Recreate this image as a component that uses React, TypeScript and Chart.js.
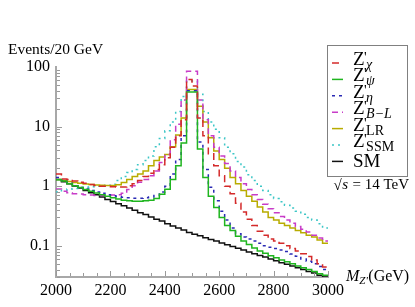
import React, { useEffect, useRef } from 'react';
import { Chart, registerables } from 'chart.js';
Chart.register(...registerables);

// ---- data ----
const BIN_START = 2000; // GeV, lower edge of first bin
const BIN_WIDTH = 20; // GeV
const xTickLabels = [2000, 2200, 2400, 2600, 2800, 3000];
const yTickLabels = [0.1, 1, 10, 100];

const zChi = [1.6, 1.32, 1.3, 1.22, 1.17, 1.12, 1.07, 1.03, 1.0, 1.0, 0.98, 0.97, 0.97, 1.02, 1.1, 1.25, 1.45, 1.65, 1.9, 2.3, 3.0, 4.5, 7.0, 13, 62, 48, 14, 7.0, 3.5, 2.2, 1.5, 1.0, 0.75, 0.52, 0.37, 0.28, 0.22, 0.175, 0.15, 0.13, 0.12, 0.11, 0.1, 0.09, 0.082, 0.074, 0.066, 0.058, 0.05, 0.044];
const zPsi = [1.28, 1.22, 1.1, 1.02, 0.95, 0.88, 0.82, 0.77, 0.72, 0.68, 0.64, 0.61, 0.58, 0.57, 0.56, 0.56, 0.57, 0.58, 0.62, 0.73, 0.89, 1.3, 2.2, 5.3, 38, 38, 4.2, 1.4, 0.68, 0.44, 0.3, 0.22, 0.18, 0.145, 0.12, 0.105, 0.092, 0.082, 0.075, 0.068, 0.063, 0.058, 0.054, 0.05, 0.046, 0.043, 0.04, 0.037, 0.034, 0.032];
const zEta = [1.4, 1.25, 1.12, 1.02, 0.95, 0.9, 0.85, 0.8, 0.76, 0.72, 0.69, 0.67, 0.65, 0.64, 0.63, 0.63, 0.64, 0.66, 0.7, 0.8, 1.0, 1.6, 2.8, 7.0, 40, 40, 5.5, 1.9, 0.96, 0.57, 0.38, 0.27, 0.2, 0.16, 0.14, 0.13, 0.12, 0.11, 0.1, 0.095, 0.09, 0.085, 0.08, 0.073, 0.067, 0.06, 0.055, 0.05, 0.045, 0.04];
const zBL = [0.9, 0.82, 0.78, 0.75, 0.74, 0.72, 0.71, 0.7, 0.7, 0.7, 0.71, 0.72, 0.76, 0.88, 1.02, 1.17, 1.3, 1.5, 1.8, 2.5, 3.4, 6.0, 11, 28, 85, 85, 28, 13, 7.0, 4.5, 3.2, 2.4, 1.8, 1.4, 1.1, 0.88, 0.72, 0.6, 0.5, 0.42, 0.36, 0.31, 0.27, 0.24, 0.21, 0.19, 0.17, 0.15, 0.135, 0.12];
const zLR = [1.3, 1.25, 1.2, 1.16, 1.12, 1.09, 1.07, 1.05, 1.04, 1.03, 1.03, 1.06, 1.15, 1.3, 1.45, 1.6, 1.8, 2.2, 2.7, 3.1, 3.4, 4.6, 7.2, 14, 42, 42, 22, 12, 6.5, 3.9, 2.8, 2.0, 1.4, 1.1, 0.85, 0.68, 0.56, 0.45, 0.37, 0.3, 0.27, 0.24, 0.22, 0.2, 0.18, 0.165, 0.15, 0.14, 0.125, 0.11];
const zSSM = [0.8, 0.86, 0.9, 0.92, 0.94, 0.96, 0.98, 1.0, 1.0, 1.04, 1.08, 1.25, 1.45, 1.7, 1.9, 2.3, 2.7, 3.2, 4.6, 6.3, 8.5, 12, 18, 32, 58, 58, 35, 18, 12, 9.0, 6.5, 4.5, 3.5, 2.6, 2.1, 1.55, 1.25, 1.0, 0.85, 0.72, 0.62, 0.55, 0.48, 0.43, 0.38, 0.34, 0.3, 0.27, 0.235, 0.2];
const smBkg = [1.3, 1.19, 1.1, 1.01, 0.93, 0.85, 0.78, 0.72, 0.66, 0.6, 0.555, 0.51, 0.47, 0.43, 0.395, 0.36, 0.335, 0.305, 0.28, 0.26, 0.235, 0.215, 0.2, 0.185, 0.168, 0.157, 0.147, 0.137, 0.128, 0.12, 0.112, 0.104, 0.097, 0.091, 0.085, 0.079, 0.074, 0.069, 0.065, 0.06, 0.056, 0.052, 0.049, 0.046, 0.043, 0.04, 0.037, 0.035, 0.032, 0.03];

const seriesSubs = ['χ', 'ψ', 'η', 'B−L', 'LR', 'SSM', ''];
const seriesItalic = [true, true, true, true, false, false, false];
const seriesValues = [zChi, zPsi, zEta, zBL, zLR, zSSM, smBkg];
const seriesColors = ['#d42a2a', '#1fb51f', '#2a2ab4', '#c83cc8', '#b8ac00', '#3cc6c6', '#111111'];
const seriesDash: number[][] = [[7, 4], [], [3, 4], [6, 4], [], [2, 4], []];

const SERIF = "'Liberation Serif', 'Times New Roman', serif";

function toSteps(values: number[]) {
  const pts = values.map((v, i) => ({ x: BIN_START + i * BIN_WIDTH, y: v }));
  pts.push({ x: BIN_START + values.length * BIN_WIDTH, y: values[values.length - 1] });
  return pts;
}

const decor = {
  id: 'decor',
  afterDraw(chart: any) {
    const { ctx, chartArea: ca, scales } = chart;
    const xs = scales.x;
    const ys = scales.y;
    ctx.save();
    // inward tick marks
    ctx.strokeStyle = '#9a9a9a';
    ctx.lineWidth = 1;
    ctx.beginPath();
    for (let v = 2000; v <= 3000; v += 50) {
      const px = Math.round(xs.getPixelForValue(v)) + 0.5;
      const len = v % 200 === 0 ? 5 : 3;
      ctx.moveTo(px, ca.bottom - 1);
      ctx.lineTo(px, ca.bottom - 1 - len);
    }
    const decades = [0.01, 0.1, 1, 10];
    for (const d of decades) {
      for (let m = 1; m <= 9; m++) {
        const v = m * d;
        if (v < ys.min || v > ys.max * 1.0001) continue;
        const py = Math.round(ys.getPixelForValue(v)) + 0.5;
        const len = m === 1 ? 5 : 3;
        ctx.moveTo(ca.left + 1, py);
        ctx.lineTo(ca.left + 1 + len, py);
      }
    }
    ctx.stroke();

    // y axis title
    ctx.fillStyle = '#000';
    ctx.textBaseline = 'alphabetic';
    ctx.textAlign = 'left';
    ctx.font = `15.5px ${SERIF}`;
    ctx.fillText('Events/20 GeV', 8, 54);

    // x axis title: M_Z'(GeV)
    let tx = 346;
    const by = 281;
    ctx.font = `italic 16px ${SERIF}`;
    ctx.fillText('M', tx, by);
    tx += ctx.measureText('M').width;
    ctx.font = `italic 11px ${SERIF}`;
    ctx.fillText("Z'", tx, by + 3);
    tx += ctx.measureText("Z'").width + 0.5;
    ctx.font = `16px ${SERIF}`;
    ctx.fillText('(GeV)', tx, by);

    // sqrt(s) = 14 TeV, right-aligned to x = 409
    const sy = 189;
    ctx.font = `15px ${SERIF}`;
    const restTxt = ' = 14 TeV';
    const restW = ctx.measureText(restTxt).width;
    const rootW = ctx.measureText('√').width;
    ctx.font = `italic 15px ${SERIF}`;
    const sw = ctx.measureText('s').width;
    let sx = 409 - restW - sw - 1 - rootW;
    ctx.font = `15px ${SERIF}`;
    ctx.fillText('√', sx, sy + 1);
    sx += rootW;
    ctx.font = `italic 15px ${SERIF}`;
    ctx.fillText('s', sx + 0.5, sy);
    ctx.strokeStyle = '#000';
    ctx.lineWidth = 1;
    ctx.beginPath();
    ctx.moveTo(sx - 0.5, sy - 12.5);
    ctx.lineTo(sx + sw + 1.5, sy - 12.5);
    ctx.stroke();
    sx += sw + 1;
    ctx.font = `15px ${SERIF}`;
    ctx.fillText(restTxt, sx, sy);

    // legend box
    const bx = 327.5, bTop = 45.5, bw = 80, bh = 131;
    ctx.fillStyle = '#fff';
    ctx.fillRect(bx, bTop, bw, bh);
    ctx.strokeStyle = '#808080';
    ctx.lineWidth = 1;
    ctx.strokeRect(bx, bTop, bw, bh);
    for (let k = 0; k < seriesValues.length; k++) {
      const ry = 63 + k * 16.4;
      ctx.strokeStyle = seriesColors[k];
      ctx.lineWidth = 1.5;
      ctx.setLineDash(seriesDash[k]);
      ctx.beginPath();
      ctx.moveTo(332, ry);
      ctx.lineTo(343, ry);
      ctx.stroke();
      ctx.setLineDash([]);
      ctx.fillStyle = '#000';
      const lx = 353;
      if (seriesSubs[k] === '') {
        ctx.font = `19px ${SERIF}`;
        ctx.fillText('SM', lx, ry + 6);
      } else {
        ctx.font = `19px ${SERIF}`;
        ctx.fillText('Z', lx, ry + 2);
        const zw = ctx.measureText('Z').width;
        ctx.font = `15px ${SERIF}`;
        ctx.fillText("'", lx + zw - 0.5, ry - 1);
        ctx.font = `${seriesItalic[k] ? 'italic ' : ''}14px ${SERIF}`;
        ctx.fillText(seriesSubs[k], lx + zw + 1.5, ry + 6);
      }
    }
    ctx.restore();
  },
};

export default function App() {
  const ref = useRef<HTMLCanvasElement | null>(null);
  useEffect(() => {
    if (!ref.current) return;
    const chart = new Chart(ref.current, {
      type: 'line',
      data: {
        datasets: seriesValues.map((vals, k) => ({
          label: k < 6 ? "Z'" + seriesSubs[k] : 'SM',
          data: toSteps(vals),
          borderColor: seriesColors[k],
          borderWidth: 1.5,
          borderDash: seriesDash[k],
          stepped: true,
          pointRadius: 0,
          fill: false,
          tension: 0,
        })),
      },
      options: {
        animation: false,
        responsive: false,
        devicePixelRatio: 1,
        layout: { padding: { left: 0, top: 67, right: 87, bottom: 0 } },
        plugins: { legend: { display: false }, tooltip: { enabled: false } },
        scales: {
          x: {
            type: 'linear',
            min: 2000,
            max: 3000,
            afterBuildTicks: (s: any) => {
              s.ticks = xTickLabels.map((v) => ({ value: v }));
            },
            afterFit: (s: any) => {
              s.height = 30;
            },
            grid: { display: false, drawTicks: false },
            border: { display: true, color: '#a8a8a8', width: 2 },
            ticks: {
              font: { family: SERIF, size: 16 },
              color: '#000',
              padding: 4,
              maxRotation: 0,
              autoSkip: false,
              callback: (v: any) => String(v),
            },
          },
          y: {
            type: 'logarithmic',
            min: 0.03,
            max: 100,
            afterBuildTicks: (s: any) => {
              s.ticks = yTickLabels.map((v) => ({ value: v }));
            },
            afterFit: (s: any) => {
              s.width = 56;
            },
            grid: { display: false, drawTicks: false },
            border: { display: true, color: '#a8a8a8', width: 2 },
            ticks: {
              font: { family: SERIF, size: 16 },
              color: '#000',
              padding: 6,
              autoSkip: false,
              callback: (v: any) => String(v),
            },
          },
        },
      },
      plugins: [decor],
    } as any);
    return () => chart.destroy();
  }, []);
  return (
    <div style={{ position: 'absolute', left: 0, top: 0, width: 415, height: 307, background: '#fff' }}>
      <canvas ref={ref} width={415} height={307} style={{ display: 'block', width: 415, height: 307 }} />
    </div>
  );
}
